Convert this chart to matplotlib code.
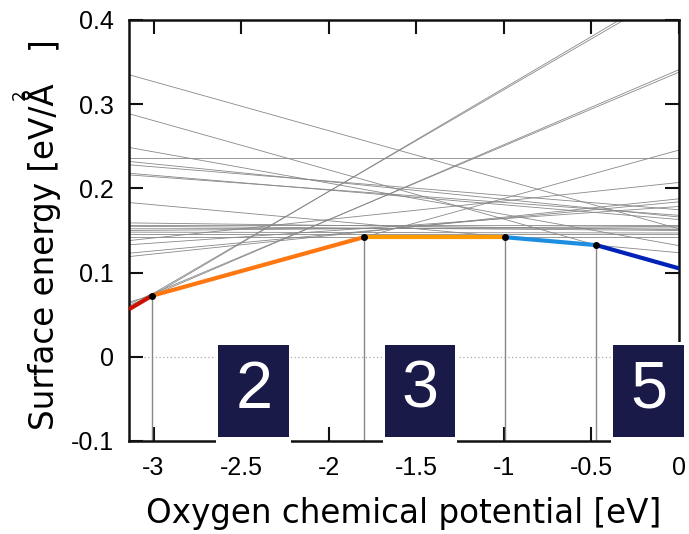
import matplotlib
matplotlib.use("Agg")
import matplotlib.pyplot as plt
from matplotlib.patches import Rectangle

# surface energy of every candidate termination, read at the left edge (mu=-3.14) and at mu=0
mu_left, mu_right = -3.14, 0.0
gray_left = [0.0564, 0.0585, 0.0650, 0.0610, 0.0630, 0.142, 0.1832, 0.2887, 0.335, 0.236,
             0.2486, 0.232, 0.228, 0.218, 0.216, 0.138, 0.123, 0.119, 0.159, 0.155,
             0.152, 0.150, 0.148, 0.146, 0.157, 0.133]
gray_right = [0.4417, 0.438, 0.2455, 0.341, 0.338, 0.142, 0.1236, 0.105, 0.152, 0.236,
              0.132, 0.166, 0.1746, 0.163, 0.168, 0.207, 0.184, 0.1876, 0.151, 0.150,
              0.153, 0.155, 0.147, 0.146, 0.157, 0.1785]

# lowest-energy envelope
env_mu = [-3.14, -3.01, -1.80, -0.993, -0.472, 0.0]
env_gamma = [0.0564, 0.0724, 0.142, 0.142, 0.1326, 0.105]
env_colors = ["#cc1100", "#ff7711", "#ff9a00", "#1e8fe0", "#0022b8"]

# phase labels
box_labels = ["2", "3", "5"]
box_x0 = [-2.63, -1.677, -0.376]
box_x1 = [-2.225, -1.278, 0.029]

W, H = 689, 534
fig = plt.figure(figsize=(W / 100, H / 100), dpi=100)
ax = fig.add_axes([0.1872, 0.1742, 0.7983, 0.7884])

for gl, gr in zip(gray_left, gray_right):
    ax.plot([mu_left, mu_right], [gl, gr], color="#888888", lw=0.6, zorder=2)

ax.axhline(0, color="#aaaaaa", lw=0.9, ls=(0, (1, 2)), zorder=1)

for m, g in zip(env_mu[1:-1], env_gamma[1:-1]):
    ax.plot([m, m], [-0.1, g], color="#888888", lw=1.0, zorder=2)

for i in range(len(env_colors)):
    ax.plot(env_mu[i:i + 2], env_gamma[i:i + 2], color=env_colors[i], lw=3.0,
            solid_capstyle="butt", zorder=3)
ax.plot(env_mu[1:-1], env_gamma[1:-1], "o", color="black", ms=4, zorder=4)

ax.set_xlim(-3.14, 0)
ax.set_ylim(-0.1, 0.4)
ax.set_xticks([-3, -2.5, -2, -1.5, -1, -0.5, 0])
ax.set_xticklabels(["-3", "-2.5", "-2", "-1.5", "-1", "-0.5", "0"])
ax.set_yticks([-0.1, 0, 0.1, 0.2, 0.3, 0.4])
ax.set_yticklabels(["-0.1", "0", "0.1", "0.2", "0.3", "0.4"])
ax.tick_params(direction="in", length=10, width=1.5, top=True, right=True,
               labelsize=18, pad=11, color="#111111")
for lab in ax.get_xticklabels() + ax.get_yticklabels():
    lab.set_family("Liberation Sans")
for sp in ax.spines.values():
    sp.set_linewidth(1.8)
    sp.set_color("#111111")

ax.set_xlabel("Oxygen chemical potential [eV]", fontsize=23.5, labelpad=12)

# y label, gnuplot style: the "2" sits over the Å and leaves a small gap before "]"
ylab_size = 23.5
ybot, ytop = 430, 36  # pixel rows from the top
fig.text(42 / W, 1 - ybot / H, "Surface energy [eV/Å", rotation=90,
         fontsize=ylab_size, ha="center", va="bottom")
fig.text(42 / W, 1 - ytop / H, "]", rotation=90, fontsize=ylab_size,
         ha="center", va="top")
r = fig.canvas.get_renderer()
def _len(s):
    t = fig.text(0, 0, s, fontsize=ylab_size)
    w = t.get_window_extent(renderer=r).width
    t.remove()
    return w
a_centre = ybot - _len("Surface energy [eV/Å") + _len("Å") / 2
fig.text(20 / W, 1 - a_centre / H, "2", rotation=90, fontsize=12,
         ha="center", va="center")

y0, y1 = -0.095, 0.0143
for lab, a, b in zip(box_labels, box_x0, box_x1):
    ax.add_patch(Rectangle((a - 0.012, -0.1035), b - a + 0.024, y1 - (-0.1035) + 0.003,
                           facecolor="white", edgecolor="none", zorder=5, clip_on=False))
    ax.add_patch(Rectangle((a, y0), b - a, y1 - y0, facecolor="#1a1a48",
                           edgecolor="none", zorder=6, clip_on=False))
    ax.text((a + b) / 2, (y0 + y1) / 2, lab, color="white", fontsize=48,
            family="Liberation Sans", ha="center", va="center", zorder=7, clip_on=False)

fig.savefig("out.png", dpi=100)
